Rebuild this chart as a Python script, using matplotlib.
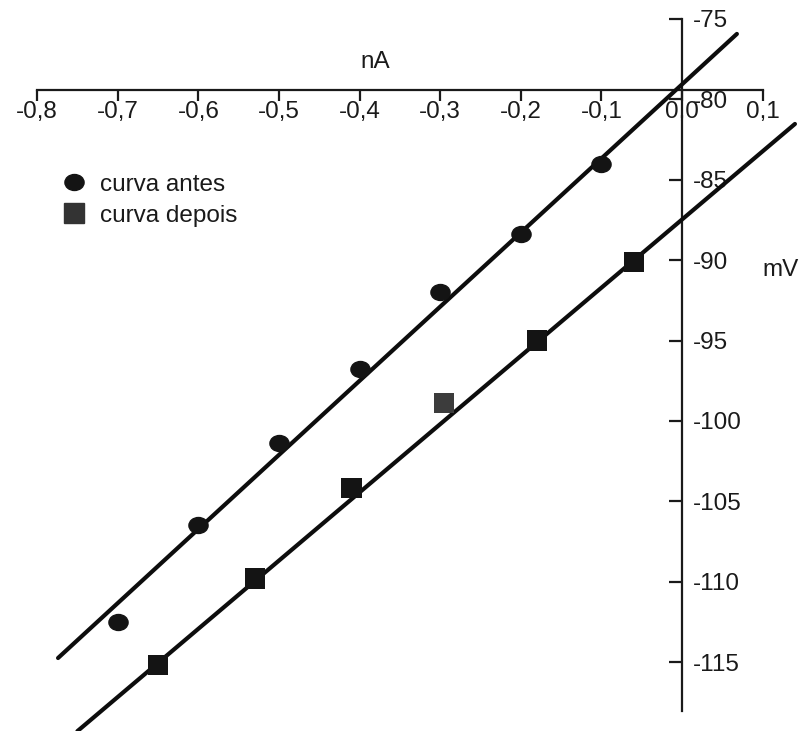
import matplotlib
matplotlib.use("Agg")
import matplotlib.pyplot as plt
from matplotlib.lines import Line2D
from matplotlib.markers import MarkerStyle
from matplotlib.transforms import Affine2D

plt.rcParams['font.family'] = ['Liberation Sans', 'DejaVu Sans']

# ---- data ----
antes_x = [-0.70, -0.60, -0.50, -0.40, -0.30, -0.20, -0.10]
antes_y = [-112.5, -106.5, -101.4, -96.8, -92.0, -88.4, -84.0]

depois_x = [-0.65, -0.53, -0.41, -0.295, -0.18, -0.06]
depois_y = [-115.2, -109.8, -104.2, -98.9, -95.0, -90.1]
depois_colors = ['#141414', '#141414', '#141414', '#3c3c3c', '#141414', '#141414']

fit_antes_x = [-0.774, 0.068]
fit_antes_y = [-114.75, -75.93]
fit_depois_x = [-0.75, 0.140]
fit_depois_y = [-119.3, -81.53]

x_ticks = [-0.8, -0.7, -0.6, -0.5, -0.4, -0.3, -0.2, -0.1, 0.0, 0.1]
x_tick_labels = ['-0,8', '-0,7', '-0,6', '-0,5', '-0,4', '-0,3', '-0,2', '-0,1', '0,0', '0,1']
y_ticks = [-75, -80, -85, -90, -95, -100, -105, -110, -115]
y_tick_labels = ['-75', '-80', '-85', '-90', '-95', '-100', '-105', '-110', '-115']

# ---- figure ----
fig = plt.figure(figsize=(8.03, 7.31), dpi=100)
ax = fig.add_axes([0, 0, 1, 1])
ax.set_xlim(-0.846, 0.150)
ax.set_ylim(-119.29, -73.82)

# spines as crossing axes
ax.spines['top'].set_visible(False)
ax.spines['left'].set_visible(False)
ax.spines['bottom'].set_position(('data', -79.4))
ax.spines['bottom'].set_bounds(-0.8, 0.1)
ax.spines['right'].set_position(('data', 0.0))
ax.spines['right'].set_bounds(-118.05, -75)
for s in ('bottom', 'right'):
    ax.spines[s].set_linewidth(1.6)
    ax.spines[s].set_color('#1a1a1a')

ax.set_xticks(x_ticks)
ax.set_xticklabels(x_tick_labels)
ax.set_yticks(y_ticks)
ax.set_yticklabels(y_tick_labels)
ax.yaxis.tick_right()
ax.xaxis.tick_bottom()
ax.tick_params(axis='x', direction='out', length=8, width=1.6, pad=0,
               labelsize=17.5, colors='#1a1a1a')
ax.tick_params(axis='y', direction='in', length=9.5, width=1.6, pad=8,
               labelsize=17.5, colors='#1a1a1a')
ax.patch.set_visible(False)

# fit lines
ax.plot(fit_antes_x, fit_antes_y, color='#0d0d0d', lw=3.0, solid_capstyle='round', zorder=3)
ax.plot(fit_depois_x, fit_depois_y, color='#0d0d0d', lw=3.0, solid_capstyle='round', zorder=3)

# markers
ell = MarkerStyle('o', transform=Affine2D().scale(1.2, 1.0))
ax.plot(antes_x, antes_y, linestyle='none', marker=ell, markersize=11.5,
        color='#141414', zorder=4)
ax.scatter(depois_x, depois_y, marker='s', s=14.5 ** 2, c=depois_colors,
           linewidths=0, zorder=4)

# axis labels
ax.text(-0.38, -77.7, 'nA', fontsize=17.5, color='#1a1a1a', ha='center', va='center')
ax.text(0.122, -90.6, 'mV', fontsize=17.5, color='#1a1a1a', ha='center', va='center')

# legend
handles = [
    Line2D([], [], linestyle='none', marker=ell, markersize=11.5, color='#141414',
           label='curva antes'),
    Line2D([], [], linestyle='none', marker='s', markersize=14.5, color='#333333',
           label='curva depois'),
]
leg = ax.legend(handles=handles, loc='upper left', bbox_to_anchor=(0.0767, 0.7626),
                frameon=False, fontsize=17.5, handlelength=1.0, handletextpad=0.6,
                labelspacing=0.38, borderpad=0, borderaxespad=0)
for t in leg.get_texts():
    t.set_color('#1a1a1a')

fig.savefig('out.png', dpi=100)
